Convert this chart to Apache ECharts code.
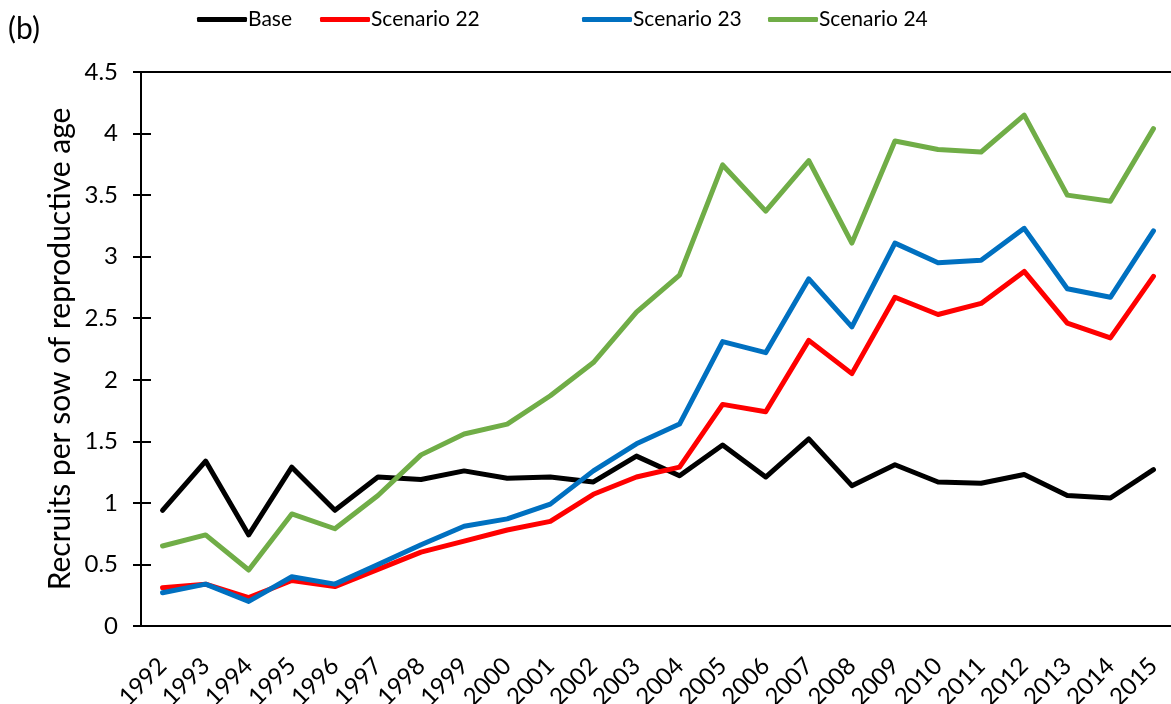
<!DOCTYPE html>
<html lang="en">
<head>
    <meta charset="UTF-8">
    <title>Recruits per sow</title>
    <style>
        *{ margin: 0; padding: 0;}
        body{ background: #fff;}
        #chart{ width: 1171px; height: 704px;}
    </style>
    <script src="https://cdn.jsdelivr.net/npm/echarts@6/dist/echarts.min.js"></script>
</head>
<body>
    <div id="chart"></div>
    <script>
        var years = ['1992', '1993', '1994', '1995', '1996', '1997', '1998', '1999', '2000', '2001', '2002', '2003',
            '2004', '2005', '2006', '2007', '2008', '2009', '2010', '2011', '2012', '2013', '2014', '2015'];
        var base = [0.94, 1.34, 0.74, 1.29, 0.94, 1.21, 1.19, 1.26, 1.20, 1.21, 1.17, 1.38,
            1.22, 1.47, 1.21, 1.52, 1.14, 1.31, 1.17, 1.16, 1.23, 1.06, 1.04, 1.27];
        var scenario22 = [0.31, 0.34, 0.23, 0.37, 0.32, 0.46, 0.60, 0.69, 0.78, 0.85, 1.07, 1.21,
            1.29, 1.80, 1.74, 2.32, 2.05, 2.67, 2.53, 2.62, 2.88, 2.46, 2.34, 2.84];
        var scenario23 = [0.27, 0.34, 0.20, 0.40, 0.34, 0.50, 0.66, 0.81, 0.87, 0.99, 1.26, 1.48,
            1.64, 2.31, 2.22, 2.82, 2.43, 3.11, 2.95, 2.97, 3.23, 2.74, 2.67, 3.21];
        var scenario24 = [0.65, 0.74, 0.455, 0.91, 0.79, 1.06, 1.39, 1.56, 1.64, 1.87, 2.14, 2.55,
            2.85, 3.745, 3.37, 3.78, 3.11, 3.94, 3.87, 3.85, 4.15, 3.50, 3.45, 4.04];
        var seriesNames = ['Base', 'Scenario 22', 'Scenario 23', 'Scenario 24'];
        var seriesColors = ['#000000', '#ff0000', '#0070c0', '#70ad47'];
        var seriesData = [base, scenario22, scenario23, scenario24];
        var legendLeft = [197, 320, 582, 768];

        var font = 'Lato';
        var myChart = echarts.init(document.getElementById('chart'));

        // one legend per series so each item sits where the original has it
        var legends = seriesNames.map(function (name, i) {
            return {
                data: [name],
                left: legendLeft[i],
                top: 9,
                padding: 0,
                icon: 'roundRect',
                itemWidth: 50,
                itemHeight: 5,
                textStyle: { fontFamily: font, fontSize: 21, color: '#000', padding: [0, 0, 0, -4] }
            };
        });

        var series = seriesNames.map(function (name, i) {
            return {
                name: name,
                type: 'line',
                data: seriesData[i],
                symbol: 'none',
                color: seriesColors[i],
                lineStyle: { width: 5, color: seriesColors[i], join: 'round', cap: 'round' }
            };
        });

        var option = {
            animation: false,
            textStyle: { fontFamily: font },
            title: {
                text: '(b)',
                left: 8,
                top: 14,
                padding: 0,
                textStyle: { fontFamily: font, fontSize: 30, fontWeight: 'normal', color: '#000' }
            },
            legend: legends,
            grid: {
                left: 141,
                top: 72,
                width: 1034,
                height: 554,
                outerBoundsMode: 'none',
                show: true,
                borderColor: '#000',
                borderWidth: 2
            },
            xAxis: [{
                type: 'category',
                data: years,
                boundaryGap: true,
                axisLine: { lineStyle: { color: '#000', width: 2 } },
                axisTick: { length: 9, lineStyle: { color: '#000', width: 2 } },
                axisLabel: { interval: 0, rotate: 45, margin: 36, fontSize: 24, color: '#000', fontFamily: font }
            }, {
                // second axis only to draw the tick marks that cross inside the plot
                type: 'category',
                data: years,
                boundaryGap: true,
                position: 'bottom',
                axisLine: { show: false },
                axisTick: { inside: true, length: 7, lineStyle: { color: '#000', width: 2 } },
                axisLabel: { show: false }
            }],
            yAxis: [{
                type: 'value',
                min: 0,
                max: 4.5,
                interval: 0.5,
                name: 'Recruits per sow of reproductive age',
                nameLocation: 'middle',
                nameGap: 66,
                nameMoveOverlap: false,
                nameTextStyle: { fontSize: 30, color: '#000', fontFamily: font },
                splitLine: { show: false },
                axisLine: { show: true, lineStyle: { color: '#000', width: 2 } },
                axisTick: { show: true, length: 8, lineStyle: { color: '#000', width: 2 } },
                axisLabel: { margin: 23, fontSize: 24, color: '#000', fontFamily: font }
            }, {
                type: 'value',
                min: 0,
                max: 4.5,
                interval: 0.5,
                position: 'left',
                splitLine: { show: false },
                axisLine: { show: false },
                axisTick: { show: true, inside: true, length: 10, lineStyle: { color: '#000', width: 2 } },
                axisLabel: { show: false }
            }],
            series: series
        };
        myChart.setOption(option);
    </script>
</body>
</html>
